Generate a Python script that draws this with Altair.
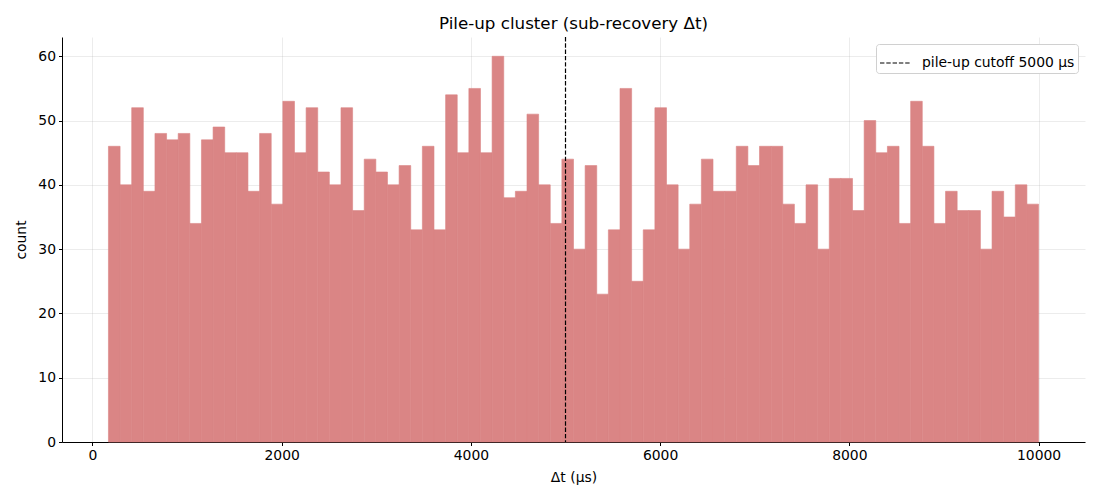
import altair as alt
import numpy as np
import pandas as pd

# histogram counts (80 bins)
counts = [46, 40, 52, 39, 48, 47, 48, 34, 47, 49,
          45, 45, 39, 48, 37, 53, 45, 52, 42, 40,
          52, 36, 44, 42, 40, 43, 33, 46, 33, 54,
          45, 55, 45, 60, 38, 39, 51, 40, 34, 44,
          30, 43, 23, 33, 55, 25, 33, 52, 40, 30,
          37, 44, 39, 39, 46, 43, 46, 46, 37, 34,
          40, 30, 41, 41, 36, 50, 45, 46, 34, 53,
          46, 34, 39, 36, 36, 30, 39, 35, 40, 37]
bin_lo = 169.0
bin_hi = 10000.0
cutoff = [5000]
cutoff_label = ["pile-up cutoff 5000 μs"]
x_ticks = [0, 2000, 4000, 6000, 8000, 10000]
y_ticks = [0, 10, 20, 30, 40, 50, 60]

edges = np.linspace(bin_lo, bin_hi, len(counts) + 1)
hist = pd.DataFrame({"start": edges[:-1], "end": edges[1:], "count": counts})
cut = pd.DataFrame({"x": cutoff, "label": cutoff_label})

FONT = "DejaVu Sans"
BAR = "#da8585"
FS = 13.9
xscale = alt.Scale(domain=[-322, 10491], nice=False, zero=False)
yscale = alt.Scale(domain=[0, 63], nice=False)

bars = alt.Chart(hist).mark_rect(fill=BAR, stroke=BAR, strokeWidth=0.6).encode(
    x=alt.X("start:Q", scale=xscale, title="Δt (μs)",
            axis=alt.Axis(values=x_ticks, format="d", grid=True)),
    x2="end:Q",
    y=alt.Y("count:Q", scale=yscale, title="count",
            axis=alt.Axis(values=y_ticks, grid=True)),
    y2=alt.datum(0),
)

rule = alt.Chart(cut).mark_rule(color="black", strokeWidth=1.2, strokeDash=[4.4, 1.9]).encode(
    x=alt.X("x:Q", scale=xscale),
    strokeDash=alt.StrokeDash(
        "label:N",
        scale=alt.Scale(range=[[4.4, 1.9]]),
        legend=alt.Legend(
            title=None, orient="top-right", offset=7,
            symbolType="stroke", symbolSize=900, symbolStrokeWidth=1.2,
            symbolStrokeColor="black",
            labelFontSize=FS, labelFont=FONT, labelColor="black",
            fillColor="white", strokeColor="#d0d0d0", cornerRadius=3,
            padding=3, labelOffset=11,
        ),
    ),
)

chart = alt.layer(bars, rule).properties(
    width=1023, height=405,
    title=alt.TitleParams("Pile-up cluster (sub-recovery Δt)", font=FONT, fontSize=16.7,
                          fontWeight="normal", color="black", offset=4),
    autosize=alt.AutoSizeParams(type="none"),
    padding={"left": 54, "top": 29, "right": 7, "bottom": 50},
).configure_view(stroke=None).configure_axis(
    labelFont=FONT, labelFontSize=FS, labelColor="black",
    titleFont=FONT, titleFontSize=FS, titleFontWeight="normal", titleColor="black",
    domainColor="black", domainWidth=1, tickColor="black", tickSize=3.5, tickWidth=1,
    labelPadding=3, gridColor="#b0b0b0", gridOpacity=0.3, gridWidth=0.8, zindex=1,
).configure_axisX(titlePadding=8).configure_axisY(titlePadding=9)

chart.save("out.html", embed_options={"renderer": "svg", "actions": False})
